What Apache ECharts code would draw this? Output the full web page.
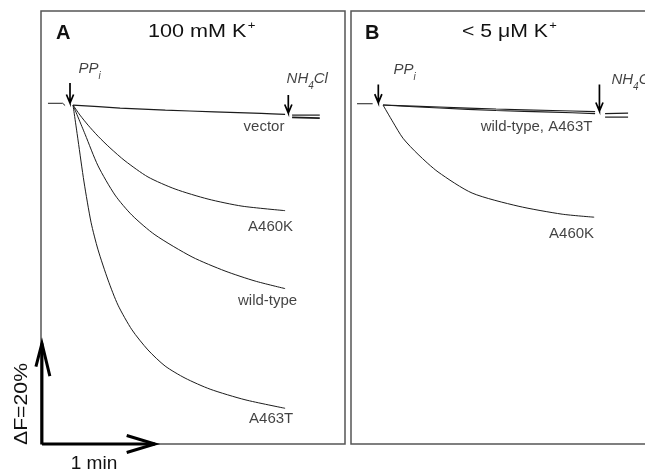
<!DOCTYPE html>
<html>
<head>
<meta charset="utf-8">
<script src="https://cdn.jsdelivr.net/npm/echarts@6/dist/echarts.min.js"></script>
<style>
html,body{margin:0;padding:0;background:#fff;}
#chart{width:645px;height:470px;}
</style>
</head>
<body>
<div id="chart"></div>
<script>
// ---------- DATA (time in s after PPi, fluorescence change in %) ----------
// Panel A: 100 mM K+
const aBaseline   = [[-13.3,0.35],[-5.5,0.35],[-4.2,-0.1]];
const aVector     = [[0,0],[25,-0.6],[49,-1.0],[75,-1.35],[100,-1.65],[112.6,-1.85]];
const aA460K      = [[0,0],[3.7,-2.0],[8.0,-4.0],[13.3,-6.2],[19.6,-8.5],[27.6,-11.1],[39.8,-14.3],[54.2,-16.7],[71.7,-18.7],[89.7,-20.1],[112.6,-21.0]];
const aWildType   = [[0,0],[6.4,-5.8],[13.3,-12.1],[22.3,-17.9],[31.3,-21.9],[43.5,-25.8],[63.2,-30.2],[80.7,-33.0],[96.7,-35.0],[112.6,-36.5]];
const aA463T      = [[0,0],[2.66,-6.96],[5.84,-15.3],[9.56,-23.3],[13.3,-28.8],[18.6,-34.8],[23.9,-39.8],[31.3,-44.7],[39.8,-48.7],[48.9,-51.9],[59.5,-54.3],[72.8,-56.5],[91.3,-58.6],[112.6,-60.3]];
const aAfter1     = [[116.3,-2.0],[131,-2.0]];
const aAfter2     = [[116.3,-2.45],[131,-2.6]];
// Panel B: < 5 uM K+
const bBaseline   = [[-13.8,0.26],[-5.5,0.26]];
const bWildType   = [[0,0],[30,-0.4],[60,-0.8],[90,-1.1],[112.6,-1.3]];
const bA463T      = [[0,0],[30,-0.6],[60,-1.1],[90,-1.4],[112.6,-1.7]];
const bA460K      = [[0,0],[5.3,-3.4],[10.6,-6.6],[18.6,-9.8],[29.2,-13.3],[47.3,-17.5],[71.7,-20.1],[95.1,-21.7],[112.1,-22.3]];
const bAfter1     = [[117.9,-1.7],[130.1,-1.6]];
const bAfter2     = [[117.9,-2.4],[130.1,-2.4]];
// Addition arrows: [time, top, tip]
const aArrows = [[-1.6,4.4,0.4],[114.3,2.0,-1.6]];
const bArrows = [[-2.5,4.1,0.46],[114.9,4.1,-1.2]];
// Trace labels: [time, level, text]
const aLabels = [[101.4,-4.4,'vector'],[104.9,-24.3,'A460K'],[103.3,-38.9,'wild-type'],[105.2,-62.4,'A463T']];
const bLabels = [[81.5,-4.4,'wild-type, A463T'],[100.1,-25.6,'A460K']];
// Reagent labels: [time, level, rich text]
const aReagents = [[2.7,7.2,'{i|PP}{sub|i}'],[113.1,5.2,'{i|NH}{sub|4}{i|Cl}']];
const bReagents = [[5.3,7.0,'{i|PP}{sub|i}'],[121.0,5.0,'{i|NH}{sub|4}{i|Cl}']];
// Scale bar
const scaleOrigin = [-16.5,-67.4];
const scaleTime = 60;   // 1 min
const scaleF = 20;      // 20 %

// ---------- CHART ----------
const FONT = '"Liberation Sans", Arial, sans-serif';
const X_MIN = -17, X_MAX = 144.4, Y_MIN = -67.4, Y_MAX = 18.7;
const PANEL_W = 304, PANEL_LEFT = 41;
// scale-bar grid: same units per pixel as panel A, but starting at the page edge
const X_MIN_S = X_MIN - PANEL_LEFT * (X_MAX - X_MIN) / PANEL_W;
const chart = echarts.init(document.getElementById('chart'), null, {renderer:'canvas'});

function trace(g, data, extra) {
  return Object.assign({
    type:'line', xAxisIndex:g, yAxisIndex:g, data:data, symbol:'none',
    smooth:0.25, clip:false, silent:true, animation:false,
    lineStyle:{color:'#1c1c1c', width:1}
  }, extra || {});
}
function arrow(g, a, hw, hh, width) {
  const [t, top, tip] = a;
  const d = [[t,top],[t,tip],[t-hw,tip+hh],[t,tip],[t+hw,tip+hh]];
  return trace(g, d, {smooth:false, lineStyle:{color:'#000', width:width, join:'miter'}});
}
function labels(g, arr) {
  return {
    type:'scatter', xAxisIndex:g, yAxisIndex:g, symbolSize:1, silent:true, animation:false,
    itemStyle:{color:'rgba(0,0,0,0)'}, clip:false,
    data: arr.map(l => ({value:[l[0], l[1]], name:l[2]})),
    label:{show:true, position:'inside', formatter:p=>p.name, color:'#111',
           fontFamily:FONT, fontSize:15}
  };
}
function reagents(g, arr) {
  return {
    type:'scatter', xAxisIndex:g, yAxisIndex:g, symbolSize:1, silent:true, animation:false,
    itemStyle:{color:'rgba(0,0,0,0)'}, clip:false,
    data: arr.map(l => ({value:[l[0], l[1]], name:l[2]})),
    label:{show:true, position:'right', distance:0, formatter:p=>p.name, color:'#111',
      rich:{
        i:{fontFamily:FONT, fontStyle:'italic', fontSize:15, color:'#111', lineHeight:18},
        sub:{fontFamily:FONT, fontStyle:'italic', fontSize:10, color:'#111', verticalAlign:'bottom', lineHeight:12, padding:[0,0,-3,0]}
      }}
  };
}

const so = scaleOrigin;
const series = [
  trace(0, aBaseline, {smooth:false}),
  trace(0, aVector, {lineStyle:{color:'#1c1c1c', width:1.2}}),
  trace(0, aA460K), trace(0, aWildType), trace(0, aA463T),
  trace(0, aAfter1, {smooth:false, lineStyle:{color:'#1c1c1c', width:1.2}}),
  trace(0, aAfter2, {smooth:false, lineStyle:{color:'#1c1c1c', width:1.8}}),
  trace(1, bBaseline, {smooth:false}),
  trace(1, bWildType, {lineStyle:{color:'#1c1c1c', width:1.1}}),
  trace(1, bA463T, {lineStyle:{color:'#1c1c1c', width:1.1}}),
  trace(1, bA460K),
  trace(1, bAfter1, {smooth:false, lineStyle:{color:'#1c1c1c', width:1.2}}),
  trace(1, bAfter2, {smooth:false, lineStyle:{color:'#1c1c1c', width:1.2}}),
  ...aArrows.map(a => arrow(0, a, 1.9, 1.7, 1.7)),
  ...bArrows.map(a => arrow(1, a, 1.9, 1.7, 1.7)),
  // scale bar (vertical 20 %, horizontal 1 min) in the scale-bar grid
  trace(2, [[so[0], so[1]],[so[0], so[1]+scaleF]], {smooth:false, lineStyle:{color:'#000', width:3}}),
  trace(2, [[so[0]-3.2, so[1]+scaleF-4.6],[so[0], so[1]+scaleF],[so[0]+4.2, so[1]+scaleF-6.5]],
        {smooth:false, lineStyle:{color:'#000', width:3, join:'miter'}}),
  trace(2, [[so[0], so[1]],[so[0]+scaleTime, so[1]]], {smooth:false, lineStyle:{color:'#000', width:3}}),
  trace(2, [[so[0]+scaleTime-15, so[1]+1.7],[so[0]+scaleTime, so[1]],[so[0]+scaleTime-15, so[1]-1.7]],
        {smooth:false, lineStyle:{color:'#000', width:3, join:'miter'}}),
  labels(0, aLabels), labels(1, bLabels),
  reagents(0, aReagents), reagents(1, bReagents)
];

const titleRich = {
  m:{fontFamily:FONT, fontSize:18, fontWeight:'normal', fill:'#111', color:'#111', lineHeight:24},
  s:{fontFamily:FONT, fontSize:11, fontWeight:'normal', fill:'#111', color:'#111', verticalAlign:'top', lineHeight:12, padding:[0,0,0,1]}
};
chart.setOption({
  animation:false,
  backgroundColor:'#fff',
  grid:[
    {left:PANEL_LEFT, top:11, width:PANEL_W, height:433, show:true, borderColor:'#555', borderWidth:1.5,
     backgroundColor:'transparent', outerBoundsMode:'none', containLabel:false},
    {left:351, top:11, width:PANEL_W, height:433, show:true, borderColor:'#555', borderWidth:1.5,
     backgroundColor:'transparent', outerBoundsMode:'none', containLabel:false},
    {left:0, top:11, width:PANEL_LEFT + PANEL_W, height:433, show:false, outerBoundsMode:'none', containLabel:false}
  ],
  xAxis:[
    {type:'value', gridIndex:0, min:X_MIN, max:X_MAX, show:false},
    {type:'value', gridIndex:1, min:X_MIN, max:X_MAX, show:false},
    {type:'value', gridIndex:2, min:X_MIN_S, max:X_MAX, show:false}
  ],
  yAxis:[
    {type:'value', gridIndex:0, min:Y_MIN, max:Y_MAX, show:false},
    {type:'value', gridIndex:1, min:Y_MIN, max:Y_MAX, show:false},
    {type:'value', gridIndex:2, min:Y_MIN, max:Y_MAX, show:false}
  ],
  graphic:[
    {type:'text', x:56, y:33,
     style:{text:'A', font:'bold 20px ' + FONT, fill:'#111', align:'left', verticalAlign:'middle'}},
    {type:'text', x:148, y:32, scaleX:1.2,
     style:{text:'{m|100 mM K}{s|+}', rich:titleRich, font:'18px ' + FONT, fill:'#111', align:'left', verticalAlign:'middle'}},
    {type:'text', x:365, y:33,
     style:{text:'B', font:'bold 20px ' + FONT, fill:'#111', align:'left', verticalAlign:'middle'}},
    {type:'text', x:462, y:32, scaleX:1.18,
     style:{text:'{m|< 5 \u03BCM K}{s|+}', rich:titleRich, font:'18px ' + FONT, fill:'#111', align:'left', verticalAlign:'middle'}},
    {type:'text', x:22, y:404, rotation:Math.PI/2, scaleX:1.18,
     style:{text:'\u0394F=20%', font:'18px ' + FONT, fill:'#111', align:'center', verticalAlign:'middle'}},
    {type:'text', x:94, y:464, scaleX:1.06,
     style:{text:'1 min', font:'18px ' + FONT, fill:'#111', align:'center', verticalAlign:'middle'}}
  ],
  series:series
});
</script>
</body>
</html>
